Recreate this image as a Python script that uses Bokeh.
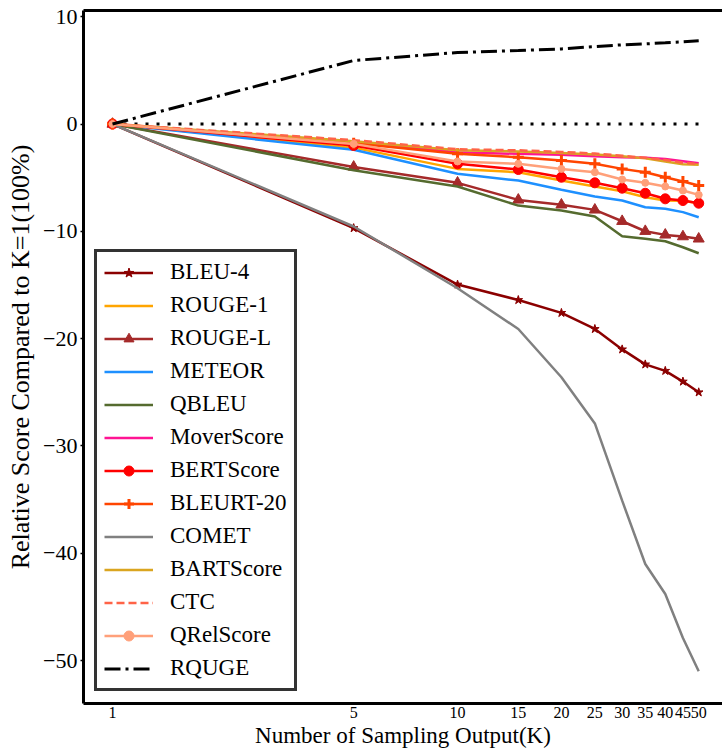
from bokeh.plotting import figure
from bokeh.models import Legend, LegendItem, FixedTicker, LinearAxis, NumeralTickFormatter
from bokeh.embed import file_html
from bokeh.resources import INLINE

K = [1, 5, 10, 15, 20, 25, 30, 35, 40, 45, 50]
x_ticks = [1, 5, 10, 15, 20, 25, 30, 35, 40, 45, 50]
y_ticks = [10, 0, -10, -20, -30, -40, -50]

bleu4 = [0, -9.7, -14.96, -16.4, -17.6, -19.1, -21.0, -22.4, -23.0, -24.0, -25.0]
rouge1 = [0, -2.2, -4.18, -4.49, -5.27, -5.82, -6.26, -6.82, -7.13, -7.15, -7.38]
rougel = [0, -4.0, -5.48, -7.07, -7.53, -8.0, -9.06, -9.99, -10.33, -10.49, -10.7]
meteor = [0, -2.4, -4.64, -5.27, -6.13, -6.76, -7.13, -7.75, -7.9, -8.21, -8.69]
qbleu = [0, -4.3, -5.82, -7.6, -8.06, -8.62, -10.45, -10.7, -10.92, -11.48, -12.04]
moverscore = [0, -1.7, -2.62, -2.78, -2.87, -3.0, -3.09, -3.15, -3.25, -3.46, -3.65]
bertscore = [0, -2.0, -3.71, -4.24, -4.96, -5.48, -5.98, -6.45, -6.97, -7.13, -7.38]
bleurt20 = [0, -1.8, -2.78, -3.09, -3.4, -3.71, -4.18, -4.49, -4.96, -5.36, -5.73]
comet = [0, -9.55, -15.3, -19.1, -23.6, -27.9, -35.1, -41.0, -43.8, -47.9, -51.0]
bartscore = [0, -1.6, -2.45, -2.55, -2.7, -2.85, -3.0, -3.2, -3.5, -3.75, -3.8]
ctc = [0, -1.5, -2.35, -2.45, -2.6, -2.75, -2.95, -3.15, -3.35, -3.6, -3.72]
qrelscore = [0, -1.85, -3.49, -3.71, -4.18, -4.49, -5.17, -5.48, -5.82, -6.2, -6.6]
rquge = [0, 5.92, 6.66, 6.85, 7.0, 7.22, 7.38, 7.47, 7.57, 7.66, 7.75]
baseline = [0.0 for _ in K]

FONT = "Liberation Serif"

p = figure(width=722, height=753, x_axis_type="log",
           x_range=(0.824, 58.6), y_range=(-54.0, 10.58),
           output_backend="svg", toolbar_location=None,
           min_border_left=83, min_border_right=0, min_border_top=10, min_border_bottom=50)
p.grid.visible = False
p.outline_line_color = None
p.background_fill_color = "white"

# x axis
xa = p.xaxis[0]
xa.ticker = FixedTicker(ticks=x_ticks)
xa.formatter = NumeralTickFormatter(format="0")
xa.major_label_text_font = FONT
xa.major_label_text_font_size = "16px"
xa.major_label_text_color = "black"
xa.major_tick_line_color = None
xa.major_tick_out = 0
xa.major_tick_in = 0
xa.minor_tick_line_color = None
xa.minor_tick_out = 0
xa.axis_line_width = 3
xa.axis_line_color = "black"
xa.major_label_standoff = 3
xa.axis_label = "Number of Sampling Output(K)"
xa.axis_label_text_font = FONT
xa.axis_label_text_font_size = "23px"
xa.axis_label_text_font_style = "normal"
xa.axis_label_text_color = "black"
xa.axis_label_standoff = 2

# y axis
ya = p.yaxis[0]
ya.ticker = FixedTicker(ticks=y_ticks)
ya.major_label_overrides = {t: (str(t).replace("-", "\u2212")) for t in y_ticks}
ya.major_label_text_font = FONT
ya.major_label_text_font_size = "22px"
ya.major_label_text_color = "black"
ya.major_tick_out = 3
ya.major_tick_in = 0
ya.major_tick_line_width = 1.5
ya.major_tick_line_color = "black"
ya.minor_tick_line_color = None
ya.minor_tick_out = 0
ya.axis_line_width = 3
ya.axis_line_color = "black"
ya.major_label_standoff = 3
ya.axis_label = "Relative Score Compared to K=1(100%)"
ya.axis_label_text_font = FONT
ya.axis_label_text_font_size = "26px"
ya.axis_label_text_font_style = "normal"
ya.axis_label_text_color = "black"
ya.axis_label_standoff = 5

top = LinearAxis(ticker=FixedTicker(ticks=[]), axis_line_width=3, axis_line_color="black",
                 major_tick_line_color=None, minor_tick_line_color=None,
                 major_label_text_font_size="0px", major_tick_out=0, minor_tick_out=0,
                 major_label_standoff=0)
p.add_layout(top, "above")

LW = 2.5

p.line(K, baseline, line_color="black", line_width=3, line_dash="3 8")

items = []

def add(label, ys, color, marker=None, size=8, dash="solid", lw=LW, mlw=1):
    rs = []
    l = p.line(K, ys, line_color=color, line_width=lw, line_dash=dash)
    rs.append(l)
    if marker is not None:
        s = p.scatter(K, ys, marker=marker, size=size, fill_color=color,
                      line_color=color, line_width=mlw)
        rs.append(s)
    items.append(LegendItem(label=label, renderers=rs))

add("BLEU-4", bleu4, "#8B0000", "star", 9)
add("ROUGE-1", rouge1, "#FFA500")
add("ROUGE-L", rougel, "#A52A2A", "triangle", 11)
add("METEOR", meteor, "#1E90FF")
add("QBLEU", qbleu, "#556B2F")
add("MoverScore", moverscore, "#FF1493")
add("BERTScore", bertscore, "#FF0000", "circle", 10)
add("BLEURT-20", bleurt20, "#FF4500", "cross", 11, mlw=3)
add("COMET", comet, "#808080")
add("BARTScore", bartscore, "#DAA520")
add("CTC", ctc, "#FF6347", dash="8 4")
add("QRelScore", qrelscore, "#FFA07A", "circle", 7)
add("RQUGE", rquge, "black", dash="16 5 3 5", lw=3)

legend = Legend(items=items, location=(11, 12),
                label_text_font=FONT, label_text_font_size="23px", label_text_color="black",
                glyph_width=49, glyph_height=25, label_height=25, spacing=7,
                padding=7, margin=0, label_standoff=17,
                border_line_color="#333333", border_line_width=3, border_line_alpha=1,
                background_fill_color="white", background_fill_alpha=1)
p.add_layout(legend)

open("out.html", "w").write(file_html(p, INLINE))
